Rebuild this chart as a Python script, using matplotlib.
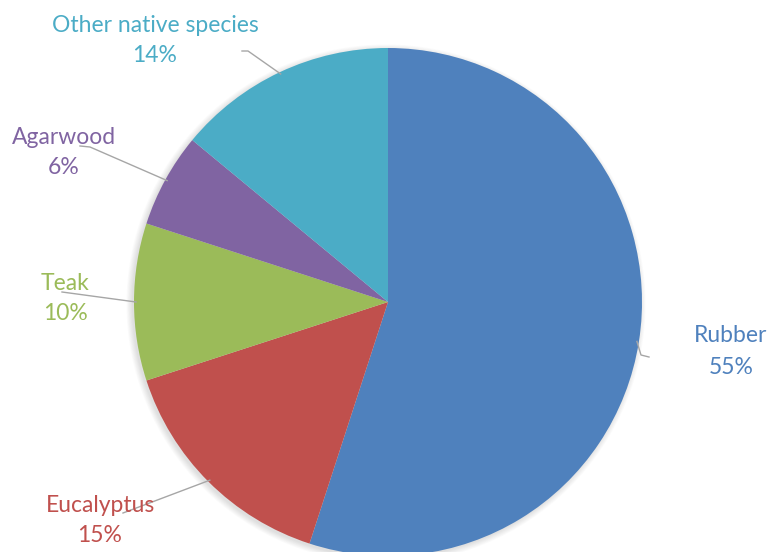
import numpy as np
import matplotlib
matplotlib.use("Agg")
import matplotlib.pyplot as plt

categories = ["Rubber", "Eucalyptus", "Teak", "Agarwood", "Other native species"]
values = [55, 15, 10, 6, 14]
colors = ["#4F81BD", "#C0504D", "#9BBB59", "#8064A2", "#4BACC6"]

W, H = 770, 552
fig = plt.figure(figsize=(W / 100, H / 100), dpi=100)
ax = fig.add_axes([0, 0, 1, 1])
ax.set_xlim(0, W)
ax.set_ylim(0, H)
ax.set_aspect("equal")
ax.axis("off")

cx, cy, R = 388, H - 302, 254

# soft shadow
for i in range(8):
    ax.add_patch(plt.Circle((cx - 2, cy - 2), R + i * 0.8, color="#000000",
                            alpha=0.015, lw=0, zorder=1))

ax.pie(values, colors=colors, startangle=90, counterclock=False,
       center=(cx, cy), radius=R, frame=True,
       wedgeprops=dict(linewidth=0, zorder=2))
ax.set_xlim(0, W)
ax.set_ylim(0, H)
ax.axis("off")

# label anchor positions (image coords: centre x, first line y) and leader start
label_pos = {
    "Rubber": (731, 336),
    "Eucalyptus": (100, 505),
    "Teak": (65, 283),
    "Agarwood": (64, 137),
    "Other native species": (155, 25),
}
leader_start = {
    "Rubber": [(649, 357), (641, 355)],
    "Eucalyptus": [(123, 513)],
    "Teak": [(62, 292)],
    "Agarwood": [(80, 146), (90, 147)],
    "Other native species": [(242, 51), (248, 51)],
}

total = sum(values)
cum = 0
for cat, v, col in zip(categories, values, colors):
    mid = cum + v / 2
    cum += v
    ang = np.deg2rad(90 - mid / total * 360)
    ex, ey = cx + (R - 2) * np.cos(ang), cy + (R - 2) * np.sin(ang)
    pts = [(x, H - y) for x, y in leader_start[cat]] + [(ex, ey)]
    xs, ys = zip(*pts)
    ax.plot(xs, ys, color="#A6A6A6", lw=1, zorder=3)
    lx, ly = label_pos[cat]
    pct = round(v / total * 100)
    ax.text(lx, H - ly, cat, color=col, fontsize=16.5, family="Lato",
            ha="center", va="center", zorder=4)
    ax.text(lx, H - ly - 31, f"{pct}%", color=col, fontsize=16.5, family="Lato",
            ha="center", va="center", zorder=4)

fig.savefig("out.png", dpi=100, facecolor="white")
